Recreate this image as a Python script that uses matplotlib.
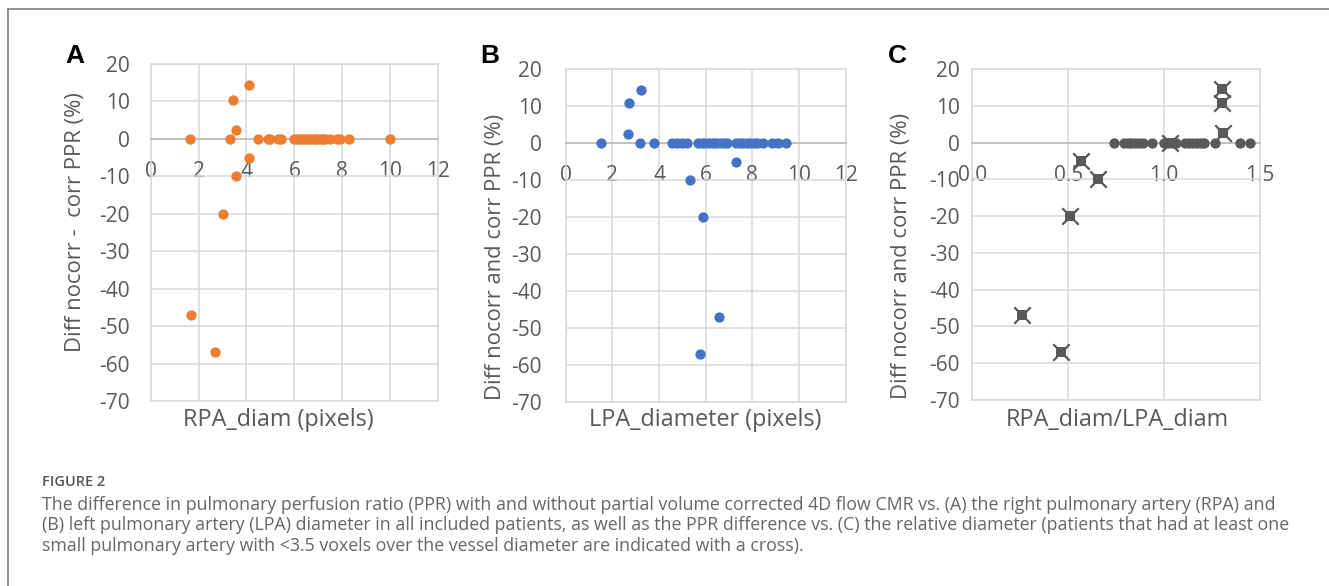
import matplotlib
matplotlib.use("Agg")
import matplotlib.pyplot as plt
from matplotlib.lines import Line2D

plt.rcParams["axes.unicode_minus"] = False

# ---------------------------------------------------------------------
# Data
# ---------------------------------------------------------------------
# panel A: RPA diameter (pixels) vs PPR difference (%)
rpa_diam = [1.65, 3.3, 4.5, 4.9, 5.0, 5.3, 5.45, 6.0, 6.1, 6.2, 6.3, 6.4, 6.5,
            6.6, 6.7, 6.8, 6.9, 7.0, 7.1, 7.2, 7.3, 7.5, 7.8, 7.9, 8.3, 10.0,
            3.42, 4.12, 3.56, 4.12, 3.56, 3.0, 1.70, 2.68]
diff_a = [0, 0, 0, 0, 0, 0, 0, 0, 0, 0, 0, 0, 0,
          0, 0, 0, 0, 0, 0, 0, 0, 0, 0, 0, 0, 0,
          10.5, 14.5, 2.5, -5, -10, -20, -47, -57]

# panel B: LPA diameter (pixels) vs PPR difference (%)
lpa_diam = [1.52, 3.18, 3.8, 4.55, 4.76, 4.97, 5.18, 5.66, 5.82, 5.98, 6.14,
            6.3, 6.46, 6.62, 6.78, 6.92, 7.3, 7.45, 7.6, 7.75, 7.9, 8.05, 8.2,
            8.45, 8.85, 9.1, 9.45,
            2.71, 3.24, 2.66, 7.29, 5.34, 5.87, 6.59, 5.76]
diff_b = [0, 0, 0, 0, 0, 0, 0, 0, 0, 0, 0,
          0, 0, 0, 0, 0, 0, 0, 0, 0, 0, 0, 0,
          0, 0, 0, 0,
          10.8, 14.5, 2.5, -5, -10, -20, -47, -57]

# panel C: RPA/LPA ratio, patients without a small artery
ratio_ok = [0.74, 0.79, 0.81, 0.83, 0.85, 0.87, 0.89, 0.935, 1.0, 1.02, 1.04,
            1.06, 1.11, 1.13, 1.15, 1.17, 1.19, 1.21, 1.265, 1.395, 1.448]
diff_c_ok = [0, 0, 0, 0, 0, 0, 0, 0, 0, 0, 0,
             0, 0, 0, 0, 0, 0, 0, 0, 0, 0]
# panel C: patients with a small artery (<3.5 voxels), drawn with a cross
ratio_small = [0.257, 0.462, 0.509, 0.565, 0.657, 1.30, 1.30, 1.309, 1.03]
diff_c_small = [-47, -57, -20, -5, -10, 14.5, 10.8, 2.5, 0]

y_ticks = [-70, -60, -50, -40, -30, -20, -10, 0, 10, 20]
x_ticks_ab = [0, 2, 4, 6, 8, 10, 12]
x_ticks_c = [0.0, 0.5, 1.0, 1.5]
x_labels_c = ["0.0", "0.5", "1.0", "1.5"]

caption_lines = [
    "The difference in pulmonary perfusion ratio (PPR) with and without partial volume corrected 4D flow CMR vs. (A) the right pulmonary artery (RPA) and",
    "(B) left pulmonary artery (LPA) diameter in all included patients, as well as the PPR difference vs. (C) the relative diameter (patients that had at least one",
    "small pulmonary artery with <3.5 voxels over the vessel diameter are indicated with a cross).",
]

W, H = 1329, 586
GRID = "#d9d9d9"
AXIS = "#bfbfbf"
TXT = "#595959"
FONT = "Open Sans"


def fx(px):
    return px / W


def fy(py):
    return 1 - py / H


def make_axes(left, right, top, bottom):
    return fig.add_axes([fx(left), fy(bottom), fx(right) - fx(left), fy(top) - fy(bottom)])


def style_axes(ax, xticks, xlim, ylab_pad, xlabels=None):
    ax.set_xlim(*xlim)
    ax.set_ylim(-70, 20)
    ax.set_xticks(xticks)
    if xlabels is not None:
        ax.set_xticklabels(xlabels)
    ax.set_yticks(y_ticks)
    ax.grid(True, color=GRID, lw=1.1, zorder=0)
    ax.set_axisbelow(True)
    for s in ["left", "right", "top"]:
        ax.spines[s].set_color(GRID)
        ax.spines[s].set_linewidth(1.1)
    ax.spines["bottom"].set_position(("data", 0))
    ax.spines["bottom"].set_color(AXIS)
    ax.spines["bottom"].set_linewidth(1.3)
    ax.axhline(-70, color=GRID, lw=1.1, clip_on=False, zorder=0)
    ax.tick_params(axis="x", length=0, pad=16, labelsize=15, labelcolor=TXT)
    ax.tick_params(axis="y", length=0, pad=ylab_pad, labelsize=15, labelcolor=TXT)
    for lab in ax.get_xticklabels() + ax.get_yticklabels():
        lab.set_fontfamily(FONT)


fig = plt.figure(figsize=(W / 100, H / 100), dpi=100)

# panel A
axA = make_axes(150.7, 438, 64, 401)
style_axes(axA, x_ticks_ab, (0, 12), 15)
axA.scatter(rpa_diam, diff_a, s=55, color="#ED7D31", zorder=3, linewidths=0)

# panel B
axB = make_axes(565.7, 845.7, 69.3, 401.7)
style_axes(axB, x_ticks_ab, (0, 12), 17)
axB.scatter(lpa_diam, diff_b, s=55, color="#4472C4", zorder=3, linewidths=0)

# panel C
axC = make_axes(972.3, 1260, 69, 400)
style_axes(axC, x_ticks_c, (0, 1.5), 9, x_labels_c)
axC.scatter(ratio_ok, diff_c_ok, s=55, color="#595959", zorder=3, linewidths=0)
axC.scatter(ratio_small, diff_c_small, s=60, marker="s", color="#595959", zorder=4, linewidths=0)
axC.scatter(ratio_small, diff_c_small, s=140, marker="x", color="#595959", zorder=5, linewidths=1.6)

# axis titles
lab_kw = dict(color=TXT, family=FONT, ha="center", va="center")
fig.text(fx(278), fy(420), "RPA_diam (pixels)", fontsize=16.8, **lab_kw)
fig.text(fx(705), fy(420), "LPA_diameter (pixels)", fontsize=16.8, **lab_kw)
fig.text(fx(1117), fy(420), "RPA_diam/LPA_diam", fontsize=16.8, **lab_kw)
fig.text(fx(75), fy(222), "Diff nocorr -  corr PPR (%)", rotation=90, fontsize=15.8, **lab_kw)
fig.text(fx(496), fy(257), "Diff nocorr and corr PPR (%)", rotation=90, fontsize=15.8, **lab_kw)
fig.text(fx(901), fy(256), "Diff nocorr and corr PPR (%)", rotation=90, fontsize=15.8, **lab_kw)

# panel letters
let_kw = dict(fontsize=19, fontweight="bold", color="black", family="Liberation Sans",
              ha="center", va="center")
fig.text(fx(75), fy(56), "A", **let_kw)
fig.text(fx(490), fy(56), "B", **let_kw)
fig.text(fx(897), fy(56), "C", **let_kw)

# caption
fig.text(fx(42), fy(482), "FIGURE 2", fontsize=10.5, fontweight="semibold", color="#555555",
         family=FONT, ha="left", va="center")
for i, line in enumerate(caption_lines):
    fig.text(fx(42), fy(505 + 20.5 * i), line, fontsize=12.75, color="#666666",
             family=FONT, ha="left", va="center")

# frame round the figure (top and left only)
fig.add_artist(Line2D([fx(8), 1], [fy(9), fy(9)], color="#808080", lw=1.2))
fig.add_artist(Line2D([fx(8), fx(8)], [fy(9), 0], color="#808080", lw=1.2))

fig.savefig("out.png", dpi=100)
